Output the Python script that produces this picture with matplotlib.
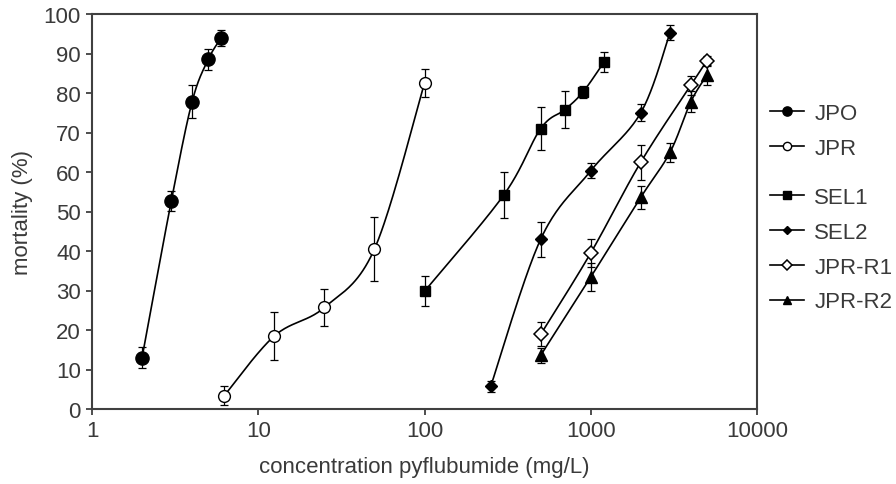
import numpy as np
import matplotlib
matplotlib.use("Agg")
import matplotlib.pyplot as plt
from matplotlib.lines import Line2D

plt.rcParams['font.family'] = ['Liberation Sans', 'DejaVu Sans']

# ---- data ----
jpo_x = [2, 3, 4, 5, 6]
jpo_y = [13.0, 52.7, 77.8, 88.5, 94.0]
jpo_e = [2.7, 2.6, 4.2, 2.6, 2.0]

jpr_x = [6.25, 12.5, 25, 50, 100]
jpr_y = [3.4, 18.5, 25.7, 40.5, 82.5]
jpr_e = [2.4, 6.0, 4.7, 8.0, 3.6]

sel1_x = [100, 300, 500, 700, 900, 1200]
sel1_y = [29.8, 54.2, 71.0, 75.8, 80.3, 87.8]
sel1_e = [3.8, 5.8, 5.4, 4.6, 1.5, 2.5]

sel2_x = [250, 500, 1000, 2000, 3000]
sel2_y = [5.7, 43.0, 60.3, 75.0, 95.3]
sel2_e = [1.4, 4.4, 1.9, 2.1, 1.8]

r1_x = [500, 1000, 2000, 4000, 5000]
r1_y = [18.9, 39.5, 62.5, 82.0, 88.2]
r1_e = [3.0, 3.6, 4.4, 2.4, 1.2]

r2_x = [500, 1000, 2000, 3000, 4000, 5000]
r2_y = [13.6, 33.4, 53.6, 65.0, 77.8, 84.5]
r2_e = [1.9, 3.5, 2.9, 2.4, 2.7, 2.4]

x_ticks = [1, 10, 100, 1000, 10000]
x_ticklabels = ['1', '10', '100', '1000', '10000']
y_ticks = list(range(0, 101, 10))

TXT = '#3a3a3a'
FS = 16


def smooth(x, y, n=40):
    u = np.log10(np.asarray(x, float))
    v = np.asarray(y, float)
    P = np.column_stack([u, v])
    Pp = np.vstack([P[0], P, P[-1]])
    out = []
    t = np.linspace(0, 1, n)[:, None]
    for i in range(len(P) - 1):
        p0, p1, p2, p3 = Pp[i], Pp[i + 1], Pp[i + 2], Pp[i + 3]
        c1 = p1 + (p2 - p0) / 6.0
        c2 = p2 - (p3 - p1) / 6.0
        seg = ((1 - t) ** 3) * p1 + 3 * ((1 - t) ** 2) * t * c1 + 3 * (1 - t) * t ** 2 * c2 + t ** 3 * p2
        out.append(seg if i == 0 else seg[1:])
    S = np.vstack(out)
    return 10 ** S[:, 0], S[:, 1]


fig = plt.figure(figsize=(8.96, 4.85), dpi=100)
ax = fig.add_axes([92 / 896, 1 - 410 / 485, (757 - 92) / 896, (410 - 15) / 485])

series = [
    ('JPO', jpo_x, jpo_y, jpo_e, dict(marker='o', ms=9.5, mfc='black', mec='black')),
    ('JPR', jpr_x, jpr_y, jpr_e, dict(marker='o', ms=8.5, mfc='white', mec='black', mew=1.0)),
    ('SEL1', sel1_x, sel1_y, sel1_e, dict(marker='s', ms=7.5, mfc='black', mec='black')),
    ('SEL2', sel2_x, sel2_y, sel2_e, dict(marker='D', ms=6.5, mfc='black', mec='black')),
    ('JPR-R1', r1_x, r1_y, r1_e, dict(marker='D', ms=6.8, mfc='white', mec='black', mew=1.1)),
    ('JPR-R2', r2_x, r2_y, r2_e, dict(marker='^', ms=8.5, mfc='black', mec='black')),
]

handles = []
for name, x, y, e, mk in series:
    sx, sy = smooth(x, y)
    ax.plot(sx, sy, color='black', lw=1.2, zorder=2)
    ax.errorbar(x, y, yerr=e, fmt='none', ecolor='black', elinewidth=0.9,
                capsize=3.2, capthick=0.9, zorder=3)
    ax.plot(x, y, linestyle='none', zorder=4, **mk)
    hmk = dict(mk)
    hmk['ms'] = mk['ms'] * 0.7
    handles.append(Line2D([], [], color='black', lw=1.2, label=name, **hmk))

ax.set_xscale('log')
ax.set_xlim(1, 10000)
ax.set_ylim(0, 100)
ax.set_xticks(x_ticks)
ax.set_xticklabels(x_ticklabels)
ax.xaxis.set_minor_locator(matplotlib.ticker.NullLocator())
ax.set_yticks(y_ticks)

for s in ax.spines.values():
    s.set_color('#404040')
    s.set_linewidth(1.5)
ax.tick_params(axis='both', direction='out', length=4, width=1.3, color='#404040',
               labelsize=FS, labelcolor=TXT, pad=4)

ax.set_xlabel('concentration pyflubumide (mg/L)', fontsize=FS, color=TXT, labelpad=11)
ax.set_ylabel('mortality (%)', fontsize=FS, color=TXT, labelpad=8)

leg_kw = dict(frameon=False, fontsize=FS, handlelength=1.55, handletextpad=0.45,
              borderpad=0, borderaxespad=0, labelspacing=0.62, loc='upper left',
              labelcolor=TXT)
leg1 = fig.legend(handles=handles[:2], bbox_to_anchor=(770 / 896, 1 - 104 / 485), **leg_kw)
leg2 = fig.legend(handles=handles[2:], bbox_to_anchor=(770 / 896, 1 - 188 / 485), **leg_kw)

fig.savefig('out.png', dpi=100)
